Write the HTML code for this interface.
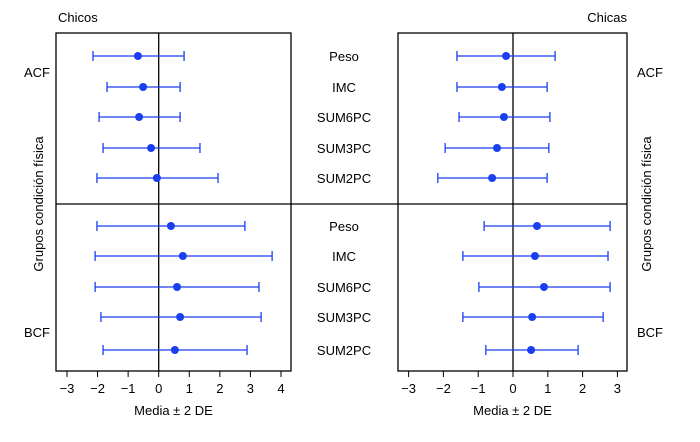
<!DOCTYPE html>
<html><head><meta charset="utf-8"><style>
body{margin:0;background:#fff}
svg text{font-family:"Liberation Sans",sans-serif;fill:#000}
</style></head><body>
<svg id="c" width="700" height="437" xmlns="http://www.w3.org/2000/svg"></svg>
<script>
const measures=["Peso","IMC","SUM6PC","SUM3PC","SUM2PC"];
const boysACFMean=[-0.68,-0.51,-0.64,-0.25,-0.06];
const boysACFLo=[-2.15,-1.69,-1.95,-1.82,-2.02];
const boysACFHi=[0.83,0.70,0.70,1.35,1.94];
const boysBCFMean=[0.40,0.79,0.60,0.70,0.53];
const boysBCFLo=[-2.02,-2.08,-2.08,-1.89,-1.82];
const boysBCFHi=[2.82,3.71,3.28,3.35,2.89];
const girlsACFMean=[-0.20,-0.32,-0.26,-0.46,-0.60];
const girlsACFLo=[-1.61,-1.61,-1.55,-1.95,-2.16];
const girlsACFHi=[1.21,0.98,1.06,1.03,0.98];
const girlsBCFMean=[0.69,0.63,0.89,0.55,0.52];
const girlsBCFLo=[-0.83,-1.44,-0.98,-1.44,-0.78];
const girlsBCFHi=[2.79,2.73,2.79,2.59,1.87];
const boysTicks=[-3,-2,-1,0,1,2,3,4];
const girlsTicks=[-3,-2,-1,0,1,2,3];

const svg=document.getElementById('c');const NS='http://www.w3.org/2000/svg';
function mk(t,a,name,p){const e=document.createElementNS(NS,t);for(const k in a)e.setAttribute(k,a[k]);


(p||svg).appendChild(e);return e;}
function txt(x,y,s,name,anchor,extra){const e=mk('text',Object.assign({x:x,y:y,'font-size':13,'text-anchor':anchor||'middle'},extra||{}),name);e.textContent=s;return e;}
const yTop=33,yBot=371,yMid=204;
const rowsTop=[56,87,117,148,178],rowsBot=[226,256,287,317,350];
const boysX=v=>158.7+v*30.57, girlsX=v=>513+v*34.8;
function panel(x0,x1,sx,ticks,sets,name){
  mk('rect',{x:x0,y:yTop,width:x1-x0,height:yBot-yTop,fill:'none',stroke:'#000','stroke-width':1.3},name+'-frame');
  mk('line',{x1:sx(0),x2:sx(0),y1:yTop,y2:yBot,stroke:'#000','stroke-width':1.3},name+'-zero-line');
  ticks.forEach(t=>{mk('line',{x1:sx(t),x2:sx(t),y1:yBot,y2:yBot+6,stroke:'#000'},name+'-tick');
    txt(sx(t),yBot+22,t<0?'\u2212'+(-t):String(t),name+'-tick-label');});
  txt((x0+x1)/2,yBot+44,'Media \u00b1 2 DE',name+'-x-axis-title');
  sets.forEach(([m,lo,hi,rows,g])=>{m.forEach((v,i)=>{const y=rows[i];
    mk('line',{x1:sx(lo[i]),x2:sx(hi[i]),y1:y,y2:y,stroke:'#1a3ff0','stroke-width':1.3},name+'-'+g+'-interval');
    [lo[i],hi[i]].forEach(e=>mk('line',{x1:sx(e),x2:sx(e),y1:y-5,y2:y+5,stroke:'#1a3ff0','stroke-width':1.3},name+'-'+g+'-cap'));
    mk('circle',{cx:sx(v),cy:y,r:4,fill:'#1a3ff0'},name+'-'+g+'-mean-point');});});
}
mk('line',{x1:56,x2:627,y1:yMid,y2:yMid,stroke:'#000','stroke-width':1.3},'group-divider');
panel(56,291,boysX,boysTicks,[[boysACFMean,boysACFLo,boysACFHi,rowsTop,'acf'],[boysBCFMean,boysBCFLo,boysBCFHi,rowsBot,'bcf']],'chicos');
panel(398,627,girlsX,girlsTicks,[[girlsACFMean,girlsACFLo,girlsACFHi,rowsTop,'acf'],[girlsBCFMean,girlsBCFLo,girlsBCFHi,rowsBot,'bcf']],'chicas');
measures.forEach((m,i)=>{txt(344,rowsTop[i]+5,m,'measure-label');txt(344,rowsBot[i]+5,m,'measure-label');});
txt(58,22,'Chicos','chicos-title','start');
txt(627,22,'Chicas','chicas-title','end');
txt(37,77,'ACF','acf-label-left');txt(37,337,'BCF','bcf-label-left');
txt(650,77,'ACF','acf-label-right');txt(650,337,'BCF','bcf-label-right');
txt(0,0,'Grupos condición física','y-axis-title-left','middle',{transform:'translate(43,204) rotate(-90)'});
txt(0,0,'Grupos condición física','y-axis-title-right','middle',{transform:'translate(651,204) rotate(-90)'});
</script>
</body></html>
